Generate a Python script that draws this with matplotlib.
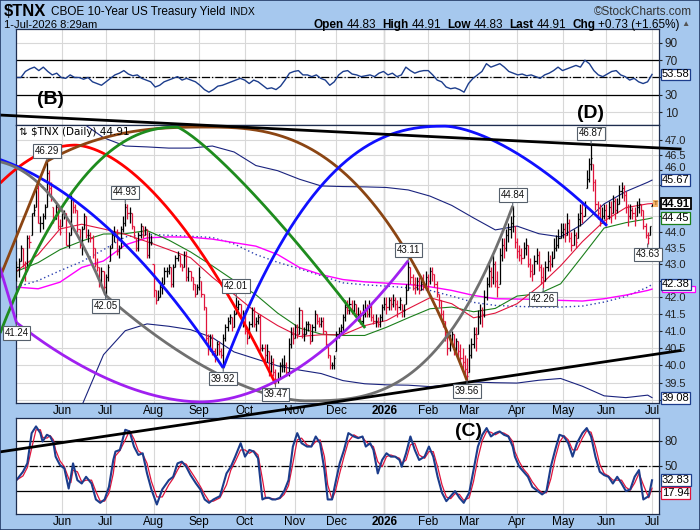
import numpy as np
import pandas as pd
import matplotlib
matplotlib.use("Agg")
import matplotlib.pyplot as plt
from matplotlib.patches import Rectangle
from matplotlib.transforms import blended_transform_factory, ScaledTranslation
from matplotlib.ticker import FixedLocator, NullLocator

plt.rcParams['font.family'] = ['Liberation Sans', 'DejaVu Sans']

W, H = 700, 530
BG = '#a6c8ee'
GRID = '#d8d8d8'
NAVY = '#1c3d8c'
CRIMSON = '#e0143c'

# ---------------- data (10-year yield x10) ----------------
holidays = ['2025-05-26', '2025-06-19', '2025-07-04', '2025-09-01', '2025-11-27',
            '2025-12-25', '2026-01-01', '2026-01-19', '2026-02-16', '2026-04-03',
            '2026-05-25', '2026-06-19']

closes = [
    # May 2025
    42.9, 43.1, 43.5, 43.0, 42.7, 43.8, 43.7, 44.6, 44.7, 45.4, 44.3, 44.3, 44.5, 44.8, 45.9, 45.4, 45.1, 44.4, 44.8, 44.2, 44.0,
    # Jun
    44.6, 44.6, 43.6, 43.9, 45.1, 44.8, 44.7, 44.1, 43.6, 44.1, 44.5, 43.9, 43.9, 43.8, 43.5, 43.0, 42.9, 42.4, 42.8, 42.3,
    # Jul
    42.6, 42.9, 43.5, 43.9, 44.0, 43.4, 43.5, 44.1, 44.3, 44.8, 44.6, 44.6, 44.2, 43.8, 43.5, 43.9, 44.2, 43.9, 44.1, 43.3, 43.7, 43.7,
    # Aug
    42.2, 41.9, 42.0, 42.3, 42.4, 42.8, 42.8, 42.9, 42.4, 42.9, 43.2, 43.3, 43.0, 42.9, 43.3, 42.6, 42.8, 42.6, 42.4, 42.1, 42.3,
    # Sep
    42.6, 42.1, 41.7, 40.8, 40.5, 40.8, 40.4, 40.3, 40.6, 40.4, 40.3, 40.8, 41.1, 41.3, 41.4, 41.1, 41.5, 41.7, 41.8, 41.4, 41.5,
    # Oct
    41.0, 40.8, 41.2, 41.6, 41.2, 41.3, 41.4, 40.5, 40.5, 40.3, 40.4, 39.8, 40.1, 39.8, 39.6, 39.6, 40.0, 40.0, 40.0, 39.8, 40.6, 40.9, 40.8,
    # Nov
    41.1, 40.9, 41.6, 40.9, 40.9, 41.2, 41.2, 40.7, 41.1, 41.5, 41.3, 41.2, 41.3, 41.0, 40.6, 40.3, 40.0, 40.0, 40.2,
    # Dec
    40.9, 41.0, 41.1, 41.4, 41.7, 41.6, 41.8, 41.6, 41.8, 41.5, 41.5, 41.3, 41.5, 41.6, 41.5, 41.7, 41.4, 41.3, 41.3, 41.2, 41.4, 41.7,
    # Jan 2026
    41.8, 41.7, 41.9, 41.8, 41.9, 41.8, 41.7, 41.9, 41.6, 41.6, 42.2, 42.9, 42.6, 42.4, 42.3, 42.5, 42.2, 42.4, 42.3, 42.6,
    # Feb
    42.5, 42.8, 42.7, 42.4, 42.1, 41.9, 41.5, 41.3, 40.9, 40.5, 40.7, 40.9, 40.5, 40.7, 40.4, 40.2, 40.1, 39.9, 39.7,
    # Mar
    40.3, 40.6, 40.9, 40.8, 41.4, 41.6, 41.5, 42.0, 42.4, 42.8, 42.6, 43.0, 42.5, 42.3, 43.3, 43.6, 43.5, 43.9, 44.1, 44.3, 44.5, 43.7,
    # Apr
    43.4, 43.3, 43.2, 43.5, 43.6, 43.0, 42.8, 42.7, 43.1, 43.3, 42.9, 42.6, 42.5, 42.9, 43.1, 43.0, 43.2, 43.5, 43.6, 43.8, 44.0,
    # May
    44.1, 43.9, 44.3, 43.8, 43.6, 43.9, 43.7, 44.4, 44.6, 44.5, 44.8, 45.7, 46.2, 46.4, 45.6, 44.9, 44.6, 44.4, 44.5, 44.7,
    # Jun
    44.5, 44.8, 44.6, 45.0, 44.7, 44.9, 45.3, 45.4, 45.2, 44.8, 44.5, 44.7, 44.6, 44.4, 44.8, 44.9, 44.7, 44.2, 43.9, 43.8, 44.18,
    # Jul 1
    44.91,
]

highs = [
    43.1, 43.2, 43.6, 43.5, 43.1, 43.9, 43.9, 44.6, 44.9, 45.5, 45.5, 44.5, 44.6, 44.9, 46.29, 46.0, 45.6, 44.8, 44.9, 44.9, 44.4,
    44.6, 44.7, 44.6, 44.0, 45.2, 45.1, 44.9, 44.7, 44.1, 44.2, 44.6, 44.5, 44.1, 44.0, 43.9, 43.5, 43.2, 42.9, 42.9, 42.8,
    42.7, 43.0, 43.6, 44.0, 44.2, 44.1, 43.6, 44.2, 44.5, 44.93, 44.9, 44.8, 44.6, 44.2, 43.8, 44.0, 44.3, 44.2, 44.2, 44.1, 44.0, 43.9,
    43.0, 42.2, 42.2, 42.4, 42.6, 42.9, 42.9, 43.0, 42.9, 43.0, 43.3, 43.4, 43.3, 43.0, 43.4, 43.4, 42.9, 42.8, 42.6, 42.4, 42.4,
    42.9, 42.5, 42.1, 41.7, 40.9, 40.9, 40.9, 40.5, 40.7, 40.7, 40.5, 40.9, 41.2, 41.4, 41.5, 41.4, 41.6, 42.01, 41.9, 41.8, 41.6,
    41.6, 41.1, 41.3, 41.7, 41.7, 41.4, 41.5, 41.5, 40.6, 40.6, 40.6, 40.4, 40.3, 40.2, 39.9, 39.8, 40.1, 40.2, 40.3, 40.1, 40.8, 41.1, 41.1,
    41.2, 41.2, 41.7, 41.6, 41.1, 41.3, 41.3, 41.2, 41.2, 41.6, 41.5, 41.4, 41.4, 41.4, 41.0, 40.6, 40.3, 40.1, 40.3,
    41.0, 41.1, 41.2, 41.5, 41.9, 41.9, 42.0, 41.9, 41.9, 41.8, 41.7, 41.6, 41.8, 41.9, 41.8, 41.9, 41.8, 41.5, 41.5, 41.4, 41.5, 41.8,
    42.0, 42.0, 42.0, 42.0, 42.1, 42.0, 41.9, 42.0, 41.8, 41.8, 42.4, 43.11, 42.9, 42.7, 42.6, 42.6, 42.6, 42.6, 42.7, 42.8,
    42.7, 42.9, 42.9, 42.7, 42.5, 42.1, 41.9, 41.6, 41.3, 41.0, 40.9, 41.0, 40.9, 40.8, 40.7, 40.6, 40.5, 40.3, 40.2,
    40.6, 40.8, 41.1, 41.1, 41.6, 41.8, 41.7, 42.2, 42.6, 43.0, 42.9, 43.3, 43.1, 42.8, 43.5, 43.8, 43.8, 44.1, 44.3, 44.5, 44.84, 44.2,
    43.8, 43.6, 43.5, 43.7, 43.8, 43.6, 43.2, 43.0, 43.3, 43.5, 43.4, 43.0, 42.9, 43.1, 43.4, 43.3, 43.4, 43.8, 43.9, 44.1, 44.3,
    44.3, 44.3, 44.6, 44.4, 44.0, 44.1, 44.0, 44.6, 44.9, 44.96, 45.0, 46.0, 46.4, 46.87, 46.2, 45.7, 45.0, 44.9, 44.8, 44.9,
    44.9, 45.0, 45.0, 45.2, 45.1, 45.1, 45.5, 45.6, 45.5, 45.3, 44.9, 44.9, 44.8, 44.8, 45.0, 45.1, 44.9, 44.7, 44.3, 44.0, 44.2,
    44.91,
]

lows = [
    42.5, 42.6, 43.1, 42.9, 42.5, 42.8, 43.5, 43.9, 44.5, 44.8, 44.3, 44.0, 44.1, 44.4, 44.8, 45.2, 45.0, 44.3, 44.4, 44.1, 43.9,
    44.2, 44.4, 43.6, 43.5, 43.9, 44.6, 44.6, 44.0, 43.5, 43.3, 44.1, 43.8, 43.7, 43.7, 43.2, 42.9, 42.8, 42.3, 42.3, 42.1,
    42.05, 42.5, 43.1, 43.5, 43.7, 43.3, 43.2, 43.5, 44.0, 44.2, 44.4, 44.3, 44.1, 43.8, 43.4, 43.4, 43.8, 43.8, 43.9, 43.2, 43.2, 43.6,
    42.0, 41.8, 41.9, 42.0, 42.1, 42.4, 42.6, 42.7, 42.3, 42.3, 42.9, 43.1, 42.9, 42.8, 42.9, 42.5, 42.5, 42.5, 42.2, 42.0, 42.1,
    42.2, 42.0, 41.6, 40.7, 40.3, 40.4, 40.3, 40.1, 40.3, 40.3, 40.2, 39.92, 40.7, 41.0, 41.2, 41.0, 41.1, 41.5, 41.6, 41.3, 41.1,
    40.9, 40.6, 40.8, 41.1, 41.1, 41.0, 41.2, 40.4, 40.4, 40.0, 40.1, 39.7, 39.8, 39.7, 39.47, 39.5, 39.6, 39.8, 39.8, 39.7, 39.7, 40.5, 40.6,
    40.8, 40.8, 40.9, 40.8, 40.7, 40.9, 41.0, 40.6, 40.7, 41.0, 41.2, 41.1, 41.1, 40.9, 40.5, 40.2, 39.9, 39.9, 39.9,
    40.4, 40.8, 40.9, 41.0, 41.3, 41.5, 41.5, 41.5, 41.5, 41.4, 41.3, 41.2, 41.2, 41.4, 41.4, 41.4, 41.3, 41.2, 41.1, 41.1, 41.1, 41.3,
    41.6, 41.5, 41.6, 41.6, 41.7, 41.6, 41.4, 41.6, 41.4, 41.4, 41.8, 42.2, 42.4, 42.2, 42.1, 42.2, 42.1, 42.2, 42.2, 42.3,
    42.2, 42.4, 42.5, 42.3, 42.0, 41.7, 41.4, 41.1, 40.7, 40.3, 40.4, 40.6, 40.3, 40.3, 40.2, 40.0, 39.9, 39.7, 39.56,
    39.8, 40.2, 40.5, 40.4, 40.9, 41.2, 41.1, 41.4, 41.9, 42.3, 42.3, 42.4, 42.3, 42.0, 42.4, 43.1, 43.2, 43.4, 43.7, 43.8, 44.0, 43.5,
    43.2, 43.1, 43.0, 43.2, 43.3, 42.9, 42.6, 42.5, 42.7, 43.0, 42.8, 42.4, 42.26, 42.5, 42.8, 42.8, 42.9, 43.2, 43.4, 43.5, 43.8,
    43.8, 43.7, 43.9, 43.7, 43.4, 43.6, 43.5, 43.8, 44.2, 44.3, 44.5, 45.4, 45.6, 46.0, 45.3, 44.7, 44.4, 44.2, 44.3, 44.4,
    44.2, 44.4, 44.3, 44.6, 44.4, 44.6, 44.9, 45.1, 45.0, 44.6, 44.2, 44.4, 44.4, 44.2, 44.5, 44.6, 44.5, 44.1, 43.8, 43.63, 43.9,
    44.83,
]

# overlays read every 10 sessions
ma_days = [0, 10, 20, 30, 40, 50, 60, 70, 80, 90, 100, 110, 120, 130, 140, 150,
           160, 170, 180, 190, 200, 210, 220, 230, 240, 250, 260, 270, 280, 290, 292]
ma_red = [42.78, 43.3, 44.1, 44.25, 44.1, 43.93, 43.7, 43.45, 43.2, 42.6, 42.08, 41.55, 41.15, 40.83, 40.88, 40.88,
          41.15, 41.3, 41.65, 41.98, 41.8, 41.38, 41.52, 41.8, 42.32, 42.95, 43.7, 44.35, 44.78, 44.9, 44.91]
ma_green = [42.78, 43.05, 43.45, 43.72, 43.94, 43.95, 44.05, 43.75, 43.38, 42.95, 42.5, 42.07, 41.52, 41.08, 40.9, 40.86,
            40.86, 41.1, 41.38, 41.65, 41.7, 41.56, 41.66, 42.03, 42.1, 42.4, 43.25, 44.13, 44.3, 44.42, 44.45]
ma_magenta = [42.3, 42.25, 42.45, 42.9, 43.1, 43.6, 43.82, 43.85, 43.84, 43.78, 43.67, 43.56, 43.3, 42.9, 42.68, 42.53,
              42.46, 42.42, 42.38, 42.31, 42.2, 42.05, 41.95, 41.94, 41.93, 41.9, 41.88, 41.95, 42.06, 42.2, 42.24]
bb_mid = [42.3, 42.5, 42.8, 43.08, 43.45, 43.85, 43.93, 43.9, 43.87, 43.83, 43.63, 43.3, 43.06, 42.86, 42.65, 42.43,
          42.37, 42.33, 42.28, 42.2, 42.03, 41.84, 41.75, 41.72, 41.7, 41.7, 41.73, 41.85, 42.02, 42.3, 42.38]
bb_upper = [48.6, 48.3, 48.0, 47.6, 47.08, 46.8, 46.77, 46.73, 46.73, 46.8, 46.6, 46.15, 45.98, 45.7, 45.48, 45.46,
            45.45, 45.43, 45.35, 45.15, 44.85, 44.45, 44.07, 44.19, 43.95, 43.85, 44.25, 44.9, 45.3, 45.6, 45.67]
bb_lower = [36.0, 36.8, 37.8, 38.85, 40.3, 41.0, 41.2, 41.13, 41.03, 40.8, 40.38, 40.18, 39.98, 39.86, 39.76, 39.56,
            39.47, 39.44, 39.43, 39.39, 39.45, 39.52, 39.5, 39.49, 39.57, 39.62, 39.4, 39.13, 39.08, 39.15, 39.08]

# RSI, read about every second session
rsi = [50, 50, 57, 60, 62, 58, 62, 57, 53, 55, 50, 49, 53, 50, 50, 48, 50, 45, 43, 41, 45, 49, 53, 55, 58, 54,
       52, 53, 49, 47, 45, 39, 41, 45, 47, 49, 51, 47, 49, 47, 45, 41, 36, 33, 36, 40, 41, 43, 45, 47, 49, 47,
       43, 47, 45, 41, 37, 38, 36, 40, 47, 55, 57, 58, 53, 53, 51, 53, 49, 47, 41, 45, 53, 57, 58, 54, 53, 51,
       52, 53, 51, 55, 57, 53, 55, 51, 53, 62, 58, 55, 57, 58, 58, 53, 47, 45, 39, 37, 38, 36, 33, 43, 49, 53,
       57, 66, 62, 64, 66, 62, 57, 55, 53, 54, 52, 53, 51, 49, 53, 55, 58, 62, 58, 60, 62, 64, 62, 70, 66, 58,
       53, 51, 54, 57, 58, 53, 51, 47, 49, 45, 43, 45, 53.58]

# slow stochastic %K
stoch_day = [0, 3, 5, 7, 9, 11, 12, 14, 15.5, 17, 18, 20, 22, 24, 25, 26, 28, 30, 32, 34.5,
             36.5, 38.5, 40.5, 42.5, 44.5, 45.5, 47.5, 50, 52, 54, 56, 58, 60, 62, 64.5, 67, 70, 72, 74, 76,
             78, 80, 82.5, 84.5, 86.5, 88.5, 90.5, 93.5, 96.5, 98.5, 100.5, 103, 105, 107, 109, 111, 113, 114.5, 116, 117.5,
             119, 121, 123, 125, 127, 129, 131, 133.5, 135.5, 137.5, 139.5, 141.5, 143, 145, 146.5, 148.5, 150.5, 152.5, 155, 157,
             159, 160.5, 162.5, 164, 166, 168, 170, 172, 174, 176, 177, 179, 181, 183, 185, 187.5, 189.5, 191.5, 193.5, 195.5,
             197.5, 199.5, 201.5, 203.5, 205.5, 208, 210, 212, 214, 216, 218, 220, 222, 224, 226, 228, 229, 231, 233, 235,
             237, 239.5, 241.5, 243.5, 245.5, 247.5, 249.5, 251.5, 253.5, 255.5, 257.5, 260, 262, 264, 266, 268, 270, 272, 274, 276,
             278, 280, 282, 284, 286, 288, 290.5, 292]
stoch_k = [33, 43, 53, 89, 97, 89, 79, 87, 85, 77, 61, 51, 47, 23, 37, 53, 33, 29, 37, 29,
           10, 6, 10, 25, 57, 67, 69, 93, 91, 73, 63, 65, 41, 22, 4, 22, 33, 37, 53, 55,
           49, 39, 29, 22, 10, 6, 10, 14, 41, 49, 61, 77, 61, 69, 67, 59, 10, 12, 12, 10,
           10, 12, 20, 33, 73, 89, 77, 73, 73, 85, 77, 45, 10, 10, 29, 53, 69, 89, 85, 83,
           85, 73, 77, 69, 41, 57, 65, 61, 61, 57, 49, 65, 85, 69, 57, 61, 73, 61, 37, 18,
           8, 14, 20, 12, 6, 18, 45, 73, 87, 95, 85, 89, 91, 87, 85, 73, 61, 49, 43, 37,
           25, 20, 16, 20, 49, 69, 87, 85, 77, 61, 77, 89, 95, 85, 61, 43, 39, 37, 29, 37,
           29, 20, 22, 37, 45, 10, 14, 32.83]
stoch_d_last = 17.94

# swing labels: session, value, high/low
swings = [(14, 46.29, 'hi'), (50, 44.93, 'hi'), (41, 42.05, 'lo'), (0, 41.24, 'lo'), (95, 39.92, 'lo'),
          (101, 42.01, 'hi'), (119, 39.47, 'lo'), (180, 43.11, 'hi'), (207, 39.56, 'lo'), (228, 44.84, 'hi'),
          (242, 42.26, 'lo'), (264, 46.87, 'hi'), (290, 43.63, 'lo')]

# cycle arcs drawn on the chart: colour, left end, apex, right end, curvature each side
arcs = [
    ('#ff0000', (-7.5, 45.57), (27.0, 46.83), (119, 39.47), 1.95, 1.72),
    ('#8b4513', (14, 46.29), (86.7, 47.44), (207, 39.56), 2.6, 2.7),
    ('#1e8c1e', (-7.5, 40.93), (73.8, 47.44), (160.2, 41.08), 2.2, 1.22),
    ('#1010ff', None, (-39.2, 46.76), (95, 39.92), 2.0, 2.0),
    ('#1010ff', (95, 39.92), (196.9, 47.47), (271.3, 44.2), 2.4, 1.6),
    ('#707070', None, (-16.7, 46.34), (41, 42.05), 2.3, 2.3),
    ('#707070', (41, 42.05), (132.6, 38.99), (228, 44.84), 1.65, 2.9),
    ('#a020f0', (0, 41.24), (84.4, 38.96), (180, 43.11), 1.8, 1.9),
]
segments = [
    ('#8b4513', (-7.5, 42.61), (14, 46.29)),
    ('#a020f0', (-7.5, 42.88), (0, 41.24)),
    ('black', (-7.5, 47.85), (304.9, 46.70)),
    ('black', (-7.5, 37.59), (304.9, 40.42)),
]

# ---------------- layout helpers ----------------
def fx(x):
    return x / W


def fy(y):
    return 1 - y / H


def panel(top, bottom):
    return [fx(16), fy(bottom), fx(659) - fx(16), fy(top) - fy(bottom)]


def arc_xy(left, apex, right, pl, pr):
    ia, va = apex
    xs, ys = [], []
    if left is not None:
        t = np.linspace(1, 0, 80)
        xs.append(ia - t * (ia - left[0]))
        ys.append(np.log(va) + (np.log(left[1]) - np.log(va)) * t ** pl)
    t = np.linspace(0, 1, 160)
    xs.append(ia + t * (right[0] - ia))
    ys.append(np.log(va) + (np.log(right[1]) - np.log(va)) * t ** pr)
    return np.concatenate(xs), np.exp(np.concatenate(ys))


def tag(a, text, val, color, size=8, weight='normal', lw=0.9):
    a.annotate(text, xy=(1, val), xycoords=('axes fraction', 'data'), xytext=(2, 0),
               textcoords='offset points', ha='left', va='center', fontsize=size,
               fontweight=weight, annotation_clip=False, zorder=12,
               bbox=dict(boxstyle='square,pad=0.08', fc='white', ec=color, lw=lw))


def right_ticks(a, ticks, fmt, hidden):
    a.yaxis.set_major_locator(FixedLocator(ticks))
    a.yaxis.set_minor_locator(NullLocator())
    a.set_yticklabels(['' if t in hidden else fmt % t for t in ticks])


# ---------------- dates ----------------
dates = pd.bdate_range('2025-05-01', '2026-07-01')
dates = dates[~dates.isin(pd.to_datetime(holidays))]
n = min(len(dates), len(closes))
x = np.arange(n)
month_pos = [k for k in range(1, n) if dates[k].month != dates[k - 1].month]
month_lab = ['2026' if dates[k].month == 1 else dates[k].strftime('%b') for k in month_pos]
year_pos = month_pos[month_lab.index('2026')]
XLIM = (-0.2, 295.2)

fig = plt.figure(figsize=(7, 5.3), dpi=100, facecolor=BG)
ax_rsi = fig.add_axes(panel(28.7, 125))
ax = fig.add_axes(panel(125, 403))
ax_st = fig.add_axes(panel(418, 514))
ax.set_zorder(3)

for a in (ax_rsi, ax, ax_st):
    a.set_facecolor('white')
    a.set_xlim(*XLIM)
    a.set_xticks(month_pos)
    a.set_axisbelow(True)
    a.grid(color=GRID, lw=0.8)
    a.axvline(year_pos, color='#9a9a9a', lw=0.9, zorder=0.5)
    a.yaxis.tick_right()
    a.tick_params(axis='y', labelsize=8.5, length=2, pad=2, colors='#222222')
    a.tick_params(axis='x', length=0, labelsize=8.5, pad=1.5)
    for s in a.spines.values():
        s.set_color('#1e2d4f')
        s.set_linewidth(0.9)
ax.tick_params(axis='y', labelsize=8)

# ---------------- RSI panel ----------------
ax_rsi.set_ylim(-5, 106.5)
right_ticks(ax_rsi, [10, 30, 50, 70, 90], '%d', hidden=[50])
ax_rsi.tick_params(axis='x', labelbottom=False)
for lvl in (70, 30):
    ax_rsi.axhline(lvl, color='black', lw=0.9)
ax_rsi.axhline(50, color='black', lw=0.9, ls='-.')
ax_rsi.plot(np.linspace(0, n - 1, len(rsi)), rsi, color=NAVY, lw=1.0)
tag(ax_rsi, f'{rsi[-1]:.2f}', rsi[-1], NAVY)

# ---------------- price panel ----------------
ax.set_yscale('log')
ax.set_ylim(38.93, 47.51)
price_ticks = [round(v, 1) for v in np.arange(39.0, 47.01, 0.5)]
tag_vals = [bb_upper[-1], closes[-1], ma_green[-1], bb_mid[-1], bb_lower[-1]]
covered = [t for t in price_ticks if min(abs(np.log(t / v)) * 1396 for v in tag_vals) < 7]
right_ticks(ax, price_ticks, '%.1f', hidden=covered)
# a label sitting just above a tag is nudged up a few pixels
lift = ScaledTranslation(0, 3 / 100, fig.dpi_scale_trans)
for tick, tv in zip(ax.yaxis.get_major_ticks(), price_ticks):
    above = [np.log(tv / v) * 1396 for v in tag_vals if tv > v]
    if tv not in covered and above and min(above) < 12:
        tick.label2.set_transform(tick.label2.get_transform() + lift)
ax.set_xticklabels(month_lab)
for t in ax.get_xticklabels():
    if t.get_text() == '2026':
        t.set_fontweight('bold')

ax.plot(ma_days, bb_upper, color='#1a237e', lw=0.8, zorder=2)
ax.plot(ma_days, bb_lower, color='#1a237e', lw=0.8, zorder=2)
ax.plot(ma_days, bb_mid, color='#2a3fb0', lw=1.0, ls=(0, (1, 2)), zorder=2)
ax.plot(ma_days, ma_magenta, color='#ff00ff', lw=1.0, zorder=2)
ax.plot(ma_days, ma_green, color='#1b7f1b', lw=0.8, zorder=2)
ax.plot(ma_days, ma_red, color=CRIMSON, lw=0.8, zorder=2)

c = np.array(closes[:n])
hi = np.array(highs[:n])
lo = np.array(lows[:n])
prev = np.r_[c[0], c[:-1]]
op = np.clip(prev, lo, hi)
cols = np.where(c >= prev, 'black', CRIMSON)
ax.vlines(x, lo, hi, colors=cols, lw=0.9, zorder=4)
ax.hlines(op, x - 0.5, x, colors=cols, lw=0.9, zorder=4)
ax.hlines(c, x, x + 0.5, colors=cols, lw=0.9, zorder=4)

for col, left, apex, right, pl, pr in arcs:
    ax_, ay_ = arc_xy(left, apex, right, pl, pr)
    ax.plot(ax_, ay_, color=col, lw=2.0, clip_on=False, zorder=6, solid_capstyle='butt')
for col, p0, p1 in segments:
    ax.plot([p0[0], p1[0]], [p0[1], p1[1]], color=col, lw=2.0, clip_on=False, zorder=6)

for day, val, kind in swings:
    up = kind == 'hi'
    ax.annotate(f'{val:.2f}', xy=(day, val), xytext=(0, 4 if up else -4), textcoords='offset points',
                ha='center', va='bottom' if up else 'top', fontsize=7, color='#111111',
                annotation_clip=False, zorder=9,
                bbox=dict(boxstyle='square,pad=0.18', fc='white', ec='#56606c', lw=0.8),
                arrowprops=dict(arrowstyle='-', color='#56606c', lw=0.8, shrinkA=0, shrinkB=0))

ax.text(0.004, 0.993, '\u21c5 $TNX (Daily) 44.91', transform=ax.transAxes, ha='left', va='top',
        fontsize=7.5, family='DejaVu Sans', parse_math=False, zorder=8)
ax.text(n + 0.6, closes[-1], 'T', fontsize=4.5, ha='center', va='center', color='#6a3a00', zorder=10,
        bbox=dict(boxstyle='square,pad=0.15', fc='#f7b56b', ec='none'))

# magenta tag sits behind the 42.38 tag, only its lower edge shows
edge = blended_transform_factory(ax.transAxes, ax.transData)
ax.add_patch(Rectangle((1.004, ma_magenta[-1] - 0.1), 0.052, 0.2, transform=edge, fc='white',
                       ec='#ff00ff', lw=0.9, clip_on=False, zorder=11))
tag(ax, f'{bb_upper[-1]:.2f}', bb_upper[-1], NAVY)
tag(ax, f'{closes[-1]:.2f}', closes[-1], 'black', weight='bold', lw=1.3)
tag(ax, f'{ma_green[-1]:.2f}', ma_green[-1], '#1b7f1b')
tag(ax, f'{bb_mid[-1]:.2f}', bb_mid[-1], NAVY)
tag(ax, f'{bb_lower[-1]:.2f}', bb_lower[-1], NAVY)

# ---------------- stochastic panel ----------------
ax_st.set_ylim(-7.3, 107)
right_ticks(ax_st, [20, 50, 80], '%d', hidden=[20])
ax_st.set_xticklabels(month_lab)
for t in ax_st.get_xticklabels():
    if t.get_text() == '2026':
        t.set_fontweight('bold')
for lvl in (80, 20):
    ax_st.axhline(lvl, color='black', lw=0.9)
ax_st.axhline(50, color='black', lw=0.9, ls='-.')
k = pd.Series(stoch_k)
d = k.rolling(2, min_periods=1).mean()
ax_st.plot(stoch_day, d, color=CRIMSON, lw=0.9)
ax_st.plot(stoch_day, k, color=NAVY, lw=1.5)
tag(ax_st, f'{stoch_k[-1]:.2f}', stoch_k[-1], NAVY)
tag(ax_st, f'{stoch_d_last:.2f}', stoch_d_last, CRIMSON)

# ---------------- wave labels ----------------
for txt, px, py in [('(B)', 51, 100), ('(D)', 590, 114), ('(C)', 468, 431)]:
    fig.text(fx(px), fy(py), txt, fontsize=14, fontweight='bold', ha='center', va='center',
             zorder=20, parse_math=False)

# ---------------- header ----------------
renderer = fig.canvas.get_renderer()


def run_text(pieces, xpos, ypos, align='left'):
    objs = []
    for s, gap, kw in pieces:
        t = fig.text(0, fy(ypos), s, ha='left', va='center', parse_math=False, **kw)
        objs.append((t, gap, t.get_window_extent(renderer).width))
    total = sum(w + g for _, g, w in objs) - objs[-1][1]
    cur = xpos if align == 'left' else xpos - total
    for t, g, w in objs:
        t.set_x(fx(cur))
        cur += w + g


B = dict(fontsize=8.5, fontweight='bold')
N = dict(fontsize=8.5)
run_text([('$TNX', 5, dict(fontsize=12, fontweight='bold')),
          ('CBOE 10-Year US Treasury Yield', 4, dict(fontsize=8.5)),
          ('INDX', 0, dict(fontsize=7.5))], 4, 12)
run_text([('1-Jul-2026 8:29am', 0, dict(fontsize=8))], 4, 25)
run_text([('\u00a9StockCharts.com', 0, dict(fontsize=8.5, color='#333333'))], 692, 12, align='right')
run_text([('Open', 3, B), ('44.83', 6, N), ('High', 3, B), ('44.91', 6, N), ('Low', 3, B), ('44.83', 6, N),
          ('Last', 3, B), ('44.91', 6, N), ('Chg', 3, B), ('+0.73 (+1.65%)', 2, N),
          ('\u25b2', 0, dict(fontsize=6, color='#555555'))], 690, 25, align='right')

fig.patches.append(Rectangle((0, 0), 1, 1, transform=fig.transFigure, fill=False,
                             ec='#233a66', lw=1.2, zorder=30))

fig.savefig('out.png', dpi=100, facecolor=BG)
